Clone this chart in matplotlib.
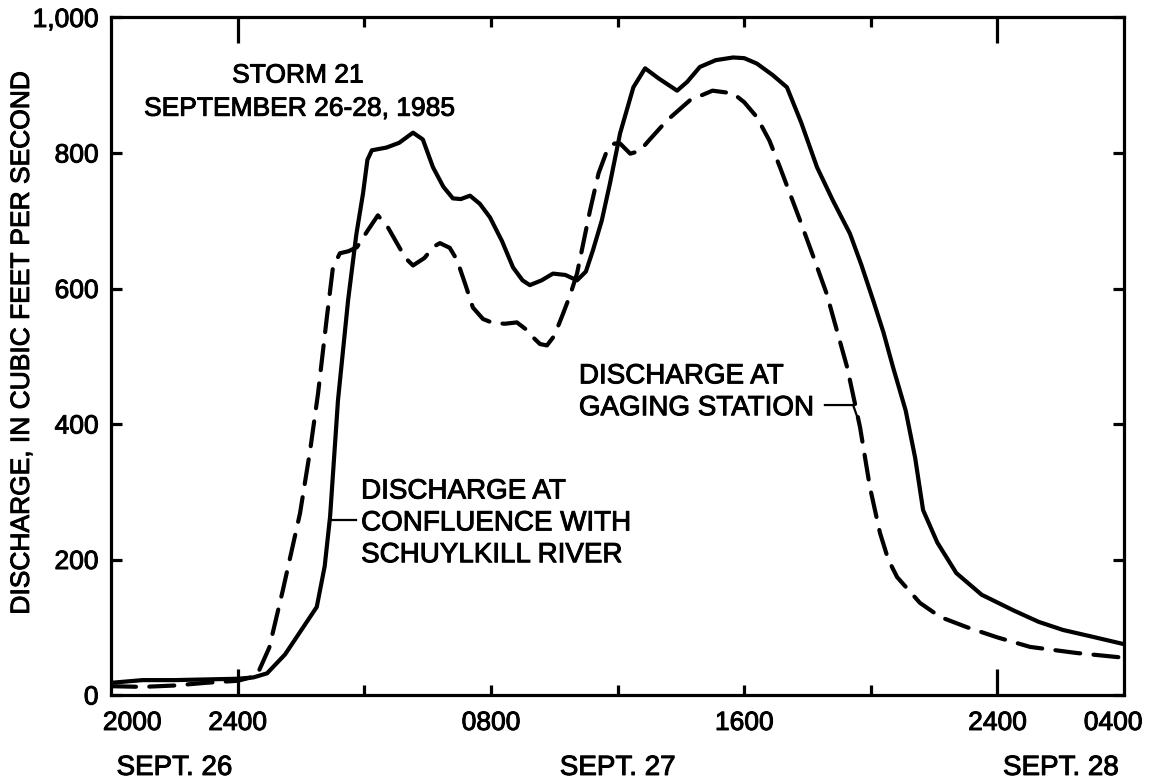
import numpy as np
import matplotlib
matplotlib.use("Agg")
import matplotlib.pyplot as plt
import matplotlib.patheffects as pe
from matplotlib.transforms import blended_transform_factory

plt.rcParams['font.family'] = ['Liberation Sans', 'DejaVu Sans']

# hours after 2000, Sept. 26, and discharge in cubic feet per second
conf_hr = [0.0, 1.0, 2.0, 3.0, 4.0, 4.5, 4.93, 5.5, 6.0, 6.5, 6.75, 6.92, 7.17, 7.49, 7.75,
           7.96, 8.1, 8.24, 8.7, 9.1, 9.54, 9.85, 10.17, 10.5, 10.8, 11.05, 11.34, 11.65,
           11.97, 12.35, 12.7, 13.0, 13.23, 13.6, 13.96, 14.35, 14.72, 15.0, 15.22, 15.5,
           15.76, 16.08, 16.5, 16.87, 17.3, 17.88, 18.2, 18.6, 19.1, 19.65, 20.0, 20.4,
           20.9, 21.35, 21.8, 22.3, 22.8, 23.34, 23.7, 24.07, 24.4, 24.7, 25.1, 25.4,
           25.65, 26.1, 26.7, 27.5, 28.5, 29.3, 30.07, 31.0, 32.0]
conf_q = [18, 22, 22, 23, 24, 26, 32, 60, 95, 130, 190, 263, 435, 583, 680,
          740, 790, 804, 808, 815, 830, 820, 779, 750, 733, 732, 737, 725,
          705, 670, 631, 612, 605, 612, 622, 620, 612, 625, 656, 700,
          755, 829, 897, 925, 910, 892, 905, 927, 937, 941, 940, 932,
          915, 897, 845, 779, 730, 681, 635, 583, 535, 484, 420, 350,
          273, 225, 180, 148, 125, 108, 96, 86, 75]

gage_hr = [0.0, 1.0, 2.0, 3.0, 4.0, 4.6, 5.0, 5.43, 5.97, 6.29, 6.54, 6.82, 7.01, 7.23,
           7.5, 7.77, 8.1, 8.43, 8.75, 9.03, 9.3, 9.54, 9.9, 10.2, 10.39, 10.7, 10.93,
           11.2, 11.43, 11.75, 12.07, 12.45, 12.82, 13.1, 13.33, 13.55, 13.77, 14.0, 14.28,
           14.5, 14.72, 15.13, 15.4, 15.67, 15.9, 16.08, 16.4, 16.7, 17.0, 17.56, 18.29,
           19.0, 19.65, 20.0, 20.4, 20.8, 21.13, 21.76, 22.2, 22.6, 23.25, 23.66, 23.97,
           24.29, 24.55, 24.83, 25.55, 26.2, 27.04, 28.0, 29.03, 30.5, 32.0]
gage_q = [13, 12, 14, 18, 21, 28, 70, 155, 268, 361, 445, 558, 631, 652,
          655, 661, 685, 708, 690, 667, 645, 634, 645, 662, 667, 660, 642,
          605, 572, 555, 549, 548, 550, 540, 528, 518, 516, 530, 563,
          590, 622, 715, 770, 804, 814, 814, 799, 803, 819, 848, 878,
          892, 888, 875, 853, 818, 779, 701, 645, 593, 484, 395, 307,
          239, 200, 174, 136, 115, 100, 85, 71, 62, 55]

x_long_ticks = [4, 28]
x_short_ticks = [8, 12, 16, 20, 24]
x_labels = ["2000", "2400", "0800", "1600", "2400", "0400"]
x_label_pos = [0.67, 4, 12, 20, 28, 31.65]
y_ticks = [0, 200, 400, 600, 800, 1000]
y_labels = ["0", "200", "400", "600", "800", "1,000"]
days = ["SEPT. 26", "SEPT. 27", "SEPT. 28"]
day_pos = [2, 16, 30]

FS = 19
FS_NOTE = 20
heavy = [pe.withStroke(linewidth=0.7, foreground='black')]

fig = plt.figure(figsize=(11.5, 7.81), dpi=100)
ax = fig.add_axes([0.0965, 0.1101, 0.881, 0.8675])

ax.plot(conf_hr, conf_q, color='black', lw=3.0, solid_capstyle='round',
        solid_joinstyle='round')
ax.plot(gage_hr, gage_q, color='black', lw=3.0, dashes=(6, 3.2),
        dash_capstyle='round', dash_joinstyle='round')

ax.set_xlim(0, 32)
ax.set_ylim(0, 1000)

for s in ax.spines.values():
    s.set_linewidth(2.3)

ax.set_xticks(x_long_ticks)
ax.set_xticks(x_short_ticks, minor=True)
ax.tick_params(axis='x', which='major', direction='in', length=19, width=2.3,
               top=True, labelbottom=False)
ax.tick_params(axis='x', which='minor', direction='in', length=7, width=2.3,
               top=True, labelbottom=False)

ax.set_yticks(y_ticks)
ax.set_yticklabels(y_labels)
ax.tick_params(axis='y', direction='in', length=8, width=2.3, right=True,
               labelsize=FS, pad=9)
for t in ax.get_yticklabels():
    t.set_path_effects(heavy)

trans = blended_transform_factory(ax.transData, ax.transAxes)
for lab, p in zip(x_labels, x_label_pos):
    ax.text(p, -0.0516, lab, transform=trans, ha='center', va='baseline',
            fontsize=FS, path_effects=heavy)
for d, p in zip(days, day_pos):
    ax.text(p, -0.118, d, transform=trans, ha='center', va='baseline',
            fontsize=FS_NOTE, path_effects=heavy)

ax.set_ylabel("DISCHARGE, IN CUBIC FEET PER SECOND", fontsize=FS,
              path_effects=heavy, va='center')
ax.yaxis.set_label_coords(-0.0879, 0.519)

ax.text(5.9, 904, "STORM 21", ha='center', va='baseline', fontsize=FS,
        path_effects=heavy)
ax.text(5.95, 855, "SEPTEMBER 26-28, 1985", ha='center', va='baseline',
        fontsize=FS, path_effects=heavy)

ax.text(14.78, 460, "DISCHARGE AT", ha='left', va='baseline', fontsize=FS_NOTE,
        path_effects=heavy)
ax.text(14.78, 413, "GAGING STATION", ha='left', va='baseline', fontsize=FS_NOTE,
        path_effects=heavy)
ax.plot([22.55, 23.44, 23.56], [428, 428, 412], color='black', lw=1.6)

ax.text(7.9, 290, "DISCHARGE AT", ha='left', va='baseline', fontsize=FS_NOTE,
        path_effects=heavy)
ax.text(7.9, 243, "CONFLUENCE WITH", ha='left', va='baseline', fontsize=FS_NOTE,
        path_effects=heavy)
ax.text(7.9, 196, "SCHUYLKILL RIVER", ha='left', va='baseline', fontsize=FS_NOTE,
        path_effects=heavy)
ax.plot([6.98, 7.75], [258, 258], color='black', lw=1.6)

fig.savefig("out.png", dpi=100)
